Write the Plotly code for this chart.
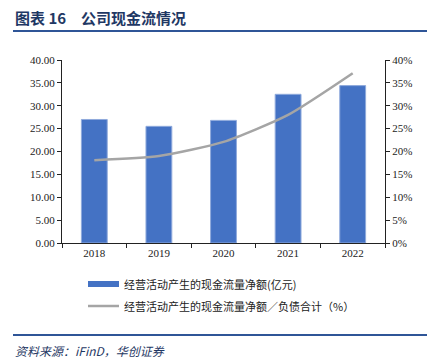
import plotly.graph_objects as go

years = ["2018", "2019", "2020", "2021", "2022"]
cash_flow = [27.0, 25.5, 26.8, 32.5, 34.4]
ratio_pct = [18.1, 19.0, 22.1, 28.0, 37.1]
left_ticks = [0, 5, 10, 15, 20, 25, 30, 35, 40]
left_labels = ["%.2f" % v for v in left_ticks]
right_ticks = [0, 5, 10, 15, 20, 25, 30, 35, 40]
right_labels = ["%d%%" % v for v in right_ticks]
legend_names = ["经营活动产生的现金流量净额(亿元)", "经营活动产生的现金流量净额／负债合计（%）"]
title_text = "图表 16　公司现金流情况"
source_text = "资料来源：iFinD，华创证券"

serif = "Liberation Serif, Times New Roman, serif"
cjk = "Noto Sans CJK SC, sans-serif"

# plot area in page pixels (page has an 8px body margin)
PL, PR, PT, PB = 62, 385, 60, 243
def px(x):
    return (x - PL) / (PR - PL)
def py(y):
    return (PB - y) / (PB - PT)

fig = go.Figure()
fig.add_trace(go.Bar(x=years, y=cash_flow, name=legend_names[0],
                     marker=dict(color="#4472C4", line=dict(color="#8FAADC", width=1)),
                     width=0.4, showlegend=False))
fig.add_trace(go.Scatter(x=years, y=ratio_pct, name=legend_names[1], yaxis="y2",
                         mode="lines", line=dict(color="#A5A5A5", width=2.5, shape="spline", smoothing=0.6),
                         showlegend=False))

fig.update_layout(
    width=434, height=350,
    margin=dict(l=PL - 8, r=442 - PR, t=PT - 8, b=358 - PB),
    paper_bgcolor="white", plot_bgcolor="white",
    font=dict(family=serif, size=11, color="#222222"),
    xaxis=dict(type="category", showline=True, linecolor="#222222", linewidth=1,
               ticks="outside", tickson="boundaries", ticklen=4, tickcolor="#222222",
               showgrid=False, tickfont=dict(family=serif, size=11)),
    yaxis=dict(range=[0, 40], tickvals=left_ticks, ticktext=left_labels,
               showline=True, linecolor="#222222", linewidth=1, ticks="outside",
               ticklen=4, tickcolor="#222222", showgrid=False, zeroline=False,
               tickfont=dict(family=serif, size=11)),
    yaxis2=dict(range=[0, 40], tickvals=right_ticks, ticktext=right_labels,
                overlaying="y", side="right",
                showline=True, linecolor="#222222", linewidth=1, ticks="outside",
                ticklen=4, tickcolor="#222222", showgrid=False, zeroline=False,
                tickfont=dict(family=serif, size=11)),
    bargap=0.6,
)

# header and footer
fig.add_annotation(text="<b>" + title_text + "</b>", xref="paper", yref="paper",
                   x=px(13), y=py(18), xanchor="left", yanchor="middle",
                   showarrow=False, font=dict(family=cjk, size=15, color="#1F3864"))
fig.add_shape(type="line", xref="paper", yref="paper",
              x0=px(13), x1=px(427), y0=py(31), y1=py(31),
              line=dict(color="#2F5597", width=2))
fig.add_shape(type="line", xref="paper", yref="paper",
              x0=px(13), x1=px(427), y0=py(335), y1=py(335),
              line=dict(color="#2F5597", width=2))
fig.add_annotation(text="<i>" + source_text + "</i>", xref="paper", yref="paper",
                   x=px(13), y=py(350), xanchor="left", yanchor="middle",
                   showarrow=False, font=dict(family=cjk, size=12, color="#1F3864"))

# manual legend
fig.add_shape(type="rect", xref="paper", yref="paper", x0=px(88), x1=px(119),
              y0=py(287), y1=py(281), fillcolor="#4472C4", line=dict(width=0))
fig.add_shape(type="line", xref="paper", yref="paper", x0=px(88), x1=px(119),
              y0=py(306), y1=py(306), line=dict(color="#A5A5A5", width=2.5))
fig.add_annotation(text=legend_names[0], xref="paper", yref="paper",
                   x=px(122), y=py(284), xanchor="left", yanchor="middle",
                   showarrow=False, font=dict(family=cjk, size=11, color="#222222"))
fig.add_annotation(text=legend_names[1], xref="paper", yref="paper",
                   x=px(122), y=py(306), xanchor="left", yanchor="middle",
                   showarrow=False, font=dict(family=cjk, size=11, color="#222222"))

fig.write_html("out.html")
